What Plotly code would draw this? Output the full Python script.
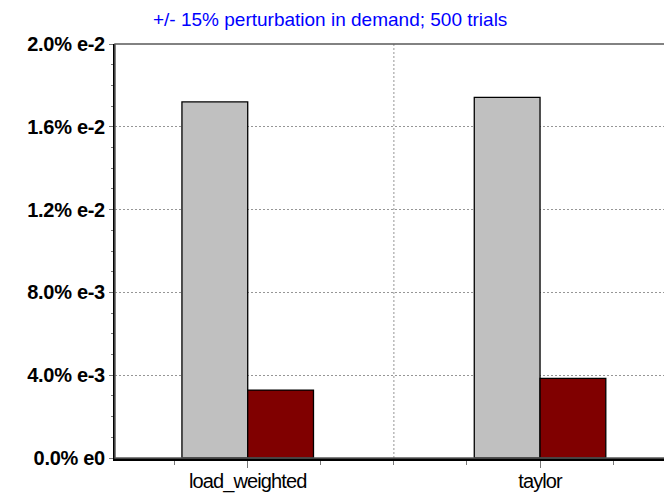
import plotly.graph_objects as go

categories = ["load_weighted", "taylor"]
series_gray = [0.01720, 0.01742]
series_red = [0.00328, 0.00385]
y_tickvals = [0, 0.004, 0.008, 0.012, 0.016, 0.020]
y_ticktext = ["0.0% e0", "4.0% e-3", "8.0% e-3", "1.2% e-2", "1.6% e-2", "2.0% e-2"]
title_text = "+/- 15% perturbation in demand; 500 trials"

xpos = list(range(len(categories)))
FONT = "Liberation Sans, Arial, sans-serif"

# the page body has an 8px margin, so the figure is 8px smaller each way
W, H = 664, 487

def tight(s, sp):
    return '<span style="letter-spacing:%spx">%s</span>' % (sp, s)

fig = go.Figure()
fig.add_trace(go.Bar(x=xpos, y=series_gray, marker=dict(color="rgb(192,192,192)",
                     line=dict(color="black", width=1.3)), showlegend=False))
fig.add_trace(go.Bar(x=xpos, y=series_red, marker=dict(color="rgb(128,0,0)",
                     line=dict(color="black", width=1.3)), showlegend=False))

# vertical separator gridline between categories
fig.add_shape(type="line", xref="x", yref="paper", x0=(xpos[0] + xpos[1]) / 2,
              x1=(xpos[0] + xpos[1]) / 2, y0=0, y1=1, layer="below",
              line=dict(color="rgb(150,150,150)", width=1, dash="2px,2px"))
# plot frame (top / right)
fig.add_shape(type="rect", xref="paper", yref="paper", x0=0, x1=1, y0=0, y1=1,
              layer="above", line=dict(color="rgb(90,90,90)", width=1.5))

fig.update_layout(
    width=W, height=H,
    margin=dict(l=107, r=1, t=36, b=37),
    paper_bgcolor="white", plot_bgcolor="white",
    barmode="group", bargap=0.55, bargroupgap=0,
    title=dict(text=title_text, x=145 / W, xanchor="left", y=1 - 11 / H,
               yanchor="middle", font=dict(family=FONT, size=19, color="rgb(0,0,255)")),
    xaxis=dict(range=[-0.454, 1.448], tickvals=xpos,
               ticktext=[tight(c, -0.9) for c in categories],
               ticks="outside", ticklen=7, tickcolor="rgb(120,120,120)",
               showline=True, linecolor="black", linewidth=2.5, showgrid=False,
               zeroline=False, ticklabelstandoff=-4, automargin=False,
               tickfont=dict(family=FONT, size=20, color="black"),
               minor=dict(dtick=0.25, tick0=0, ticks="outside", ticklen=4,
                          tickcolor="rgb(120,120,120)", showgrid=False)),
    yaxis=dict(range=[0, 0.02], tickvals=y_tickvals,
               ticktext=[tight(t, -0.3) for t in y_ticktext],
               ticks="outside", ticklen=4, tickcolor="rgb(120,120,120)",
               showline=True, linecolor="black", linewidth=2.2,
               showgrid=True, gridcolor="rgb(150,150,150)", griddash="2px,2px", gridwidth=1,
               zeroline=False, automargin=False,
               tickfont=dict(family=FONT, size=20, color="black", weight="bold"),
               minor=dict(dtick=0.001, ticks="outside", ticklen=2,
                          tickcolor="rgb(120,120,120)", showgrid=False)),
)

fig.write_html("out.html")
